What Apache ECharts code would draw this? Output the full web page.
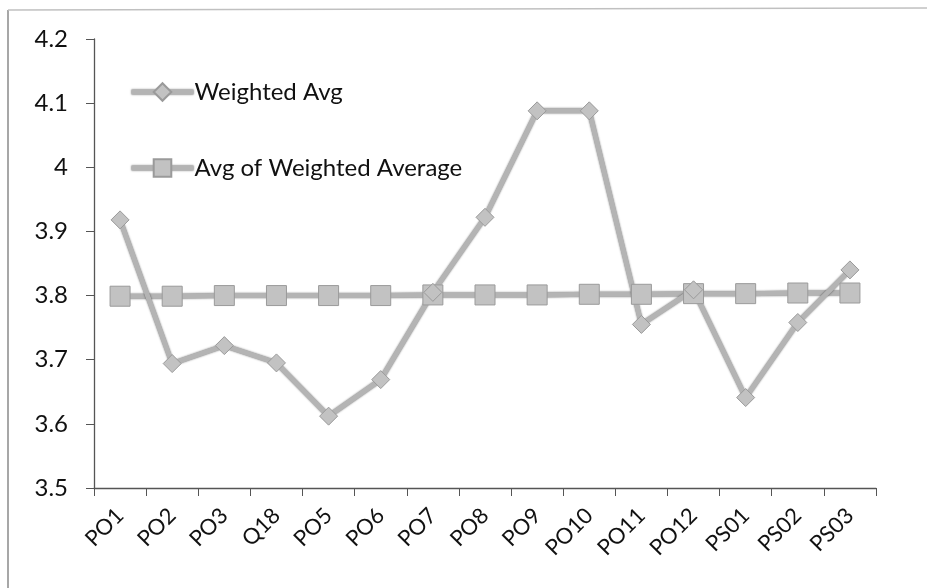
<!DOCTYPE html>
<html>
<head>
<meta charset="utf-8">
<script src="https://cdn.jsdelivr.net/npm/echarts@6/dist/echarts.min.js"></script>
<style>html,body{margin:0;padding:0;background:#fff;}#c{width:927px;height:588px;}</style>
</head>
<body>
<div id="c"></div>
<script>
var categories = ['PO1','PO2','PO3','Q18','PO5','PO6','PO7','PO8','PO9','PO10','PO11','PO12','PS01','PS02','PS03'];
var weightedAvg = [3.918,3.694,3.722,3.695,3.612,3.669,3.805,3.922,4.088,4.088,3.755,3.809,3.641,3.758,3.840];
var avgOfWeighted = [3.799,3.799,3.800,3.800,3.800,3.800,3.801,3.801,3.801,3.802,3.802,3.803,3.803,3.804,3.804];
var yMin = 3.5, yMax = 4.2, yStep = 0.1;

var FONT = 'Lato';
var lineStyleCommon = {color:'#b4b4b4', width:5, shadowColor:'rgba(0,0,0,0.55)', shadowBlur:2};
var chart = echarts.init(document.getElementById('c'), null, {renderer:'canvas'});
chart.setOption({
  backgroundColor: '#ffffff',
  animation: false,
  graphic: [
    {type:'line', shape:{x1:8,y1:10,x2:8,y2:588}, style:{stroke:'#8a8a8a', lineWidth:1.5}},
    {type:'line', shape:{x1:8,y1:10,x2:927,y2:8}, style:{stroke:'#c0c0c0', lineWidth:1.5}}
  ],
  grid: {left:94, right:51, top:39, bottom:100, containLabel:false},
  legend: {
    orient:'vertical', left:124, top:75, itemGap:52, itemWidth:62, itemHeight:22,
    lineStyle:{width:5, color:'#b4b4b4', shadowColor:'rgba(0,0,0,0.55)', shadowBlur:2},
    textStyle:{fontFamily:FONT, fontSize:24, color:'#111', padding:[0,0,0,-4]},
    data:['Weighted Avg','Avg of Weighted Average']
  },
  xAxis: {
    type:'category', data:categories, boundaryGap:true,
    axisLine:{lineStyle:{color:'#555', width:1.3}},
    axisTick:{show:true, length:8, alignWithLabel:false, lineStyle:{color:'#555'}},
    axisLabel:{rotate:45, margin:24, fontFamily:FONT, fontSize:22, color:'#111', interval:0}
  },
  yAxis: {
    type:'value', min:yMin, max:yMax, interval:yStep,
    splitLine:{show:false},
    axisLine:{show:true, lineStyle:{color:'#555', width:1.3}},
    axisTick:{show:true, inside:false, length:8, lineStyle:{color:'#555'}},
    axisLabel:{margin:26, fontFamily:FONT, fontSize:24, color:'#111',
      formatter:function(v){return String(Math.round(v*10)/10);}}
  },
  series: [
    {
      name:'Avg of Weighted Average', type:'line', data:avgOfWeighted,
      symbol:'rect', symbolSize:20,
      lineStyle:lineStyleCommon,
      itemStyle:{color:'#c2c2c2', borderColor:'#9a9a9a', borderWidth:1}
    },
    {
      name:'Weighted Avg', type:'line', data:weightedAvg,
      symbol:'diamond', symbolSize:18,
      lineStyle:lineStyleCommon,
      itemStyle:{color:'#c2c2c2', borderColor:'#9a9a9a', borderWidth:1},
      z:3
    }
  ]
});
</script>
</body>
</html>
